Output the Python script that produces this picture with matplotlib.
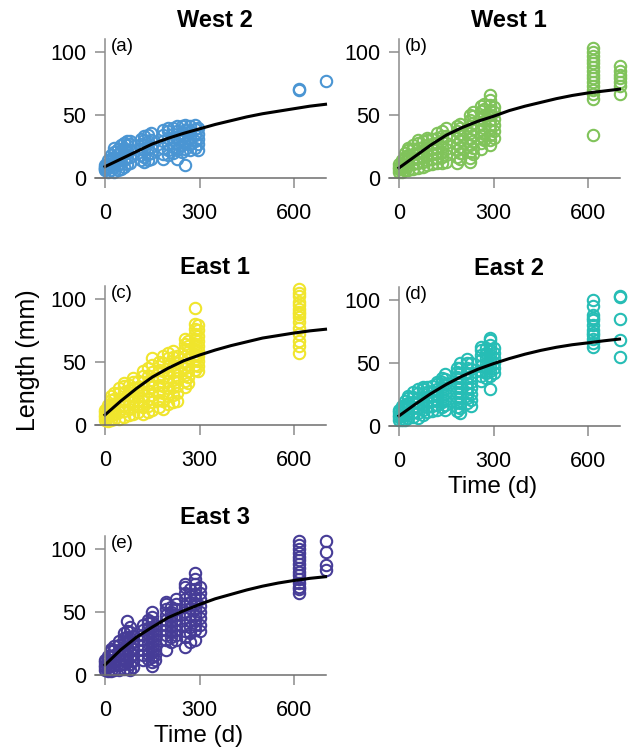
import matplotlib
matplotlib.use('Agg')
import matplotlib.pyplot as plt

plt.rcParams['font.family'] = ['Liberation Sans', 'DejaVu Sans']

# ---- data ----
titles = ['West 2', 'West 1', 'East 1', 'East 2', 'East 3']
tags = ['(a)', '(b)', '(c)', '(d)', '(e)']
colors = ['#4a95d3', '#80c35a', '#f0e52c', '#26bdb5', '#463c97']

# sampling days and measured lengths (mm) per day
west2_days = [0, 10, 20, 30, 40, 50, 60, 70, 80, 115, 125, 135, 145,
              185, 200, 215, 230, 245, 255, 270, 285, 295, 615, 700]
west2_len = [[6, 8, 9, 10, 7], [5, 8, 11, 14], [6, 10, 14, 18], [5, 9, 13, 17, 21, 24],
             [6, 10, 15, 19, 23], [7, 12, 17, 22, 26], [9, 14, 19, 24, 28],
             [11, 16, 21, 26, 29], [12, 17, 22, 27, 29], [14, 18, 23, 27, 31],
             [13, 17, 22, 26, 30, 33], [14, 19, 24, 29, 34], [15, 20, 25, 30, 36],
             [15, 19, 24, 29, 34, 38], [18, 22, 27, 32, 37, 40], [20, 25, 30, 35, 40],
             [15, 22, 27, 32, 37, 41], [21, 26, 31, 36, 41], [10, 23, 28, 33, 38, 42],
             [22, 27, 32, 37, 41], [24, 29, 34, 39, 42], [22, 27, 31, 35, 40],
             [70, 71], [77]]

west1_days = [0, 10, 20, 30, 45, 60, 75, 90, 105, 120, 135, 150,
              185, 195, 225, 235, 260, 270, 290, 300, 615, 700]
west1_len = [[5, 7, 9, 11], [5, 8, 11, 14], [6, 9, 13, 17, 20], [6, 10, 14, 18, 22, 24],
             [7, 11, 15, 19, 23, 26], [8, 12, 16, 20, 24, 28, 30], [9, 13, 17, 21, 25, 29],
             [10, 14, 18, 22, 26, 30, 32], [11, 15, 19, 23, 27, 31],
             [12, 16, 20, 24, 28, 32, 36], [12, 17, 21, 25, 29, 33, 37],
             [13, 18, 23, 28, 33, 40], [12, 17, 22, 27, 32, 37, 41],
             [15, 20, 25, 30, 35, 40, 43], [13, 16, 21, 26, 31, 36, 41, 46, 50],
             [19, 24, 29, 34, 39, 44, 49, 52], [23, 28, 33, 38, 43, 48, 53, 57],
             [30, 35, 40, 45, 50, 55, 59], [26, 30, 34, 38, 42, 46, 50, 54, 58, 62, 66],
             [32, 37, 42, 47, 52, 56],
             [34, 63, 67, 70, 73, 76, 79, 82, 85, 88, 91, 94, 97, 100, 103],
             [67, 73, 76, 79, 82, 85, 89]]

east1_days = [0, 10, 20, 30, 45, 60, 75, 90, 105, 120, 135, 150, 170,
              185, 200, 215, 230, 255, 265, 285, 295, 615]
east1_len = [[4, 6, 8, 10, 12], [3, 6, 9, 13, 16], [4, 8, 12, 16, 20, 23],
             [5, 9, 13, 17, 21, 25], [5, 10, 15, 20, 25, 29], [6, 11, 16, 21, 26, 31, 33],
             [8, 13, 18, 23, 28, 32], [9, 14, 19, 24, 29, 34, 37], [10, 15, 20, 25, 30, 35],
             [9, 14, 19, 24, 29, 34, 39, 43], [10, 15, 21, 27, 33, 39, 45],
             [12, 18, 24, 30, 36, 42, 48, 53], [14, 20, 26, 32, 38, 44, 50],
             [13, 19, 25, 31, 37, 43, 49, 55], [17, 23, 29, 35, 41, 47, 53, 57],
             [18, 24, 30, 36, 42, 48, 54, 59], [19, 25, 31, 37, 43, 49, 55],
             [30, 35, 40, 45, 50, 55, 60, 64, 68], [33, 38, 43, 48, 53, 58, 63, 67],
             [44, 48, 52, 56, 60, 64, 68, 72, 76, 80, 93],
             [43, 47, 51, 55, 59, 63, 67, 71, 75, 79],
             [57, 63, 67, 72, 77, 82, 86, 88, 90, 92, 95, 98, 102, 105, 108]]

east2_days = [0, 10, 20, 30, 45, 60, 75, 90, 105, 120, 135, 145,
              185, 195, 215, 230, 260, 275, 290, 300, 615, 700]
east2_len = [[5, 7, 9, 11, 13], [5, 8, 11, 14, 16], [5, 9, 13, 17, 20],
             [6, 10, 14, 18, 22, 24], [7, 11, 15, 19, 23, 27], [6, 10, 14, 18, 22, 26, 29],
             [9, 13, 17, 21, 25, 29, 31], [11, 15, 19, 23, 27, 31], [12, 16, 20, 24, 28, 32],
             [13, 17, 21, 25, 29, 33, 35], [15, 19, 23, 27, 31, 35, 38],
             [13, 17, 21, 25, 29, 33, 37, 41], [12, 15, 19, 23, 27, 31, 35, 39, 43, 46],
             [10, 14, 18, 22, 26, 30, 34, 38, 42, 46, 50],
             [18, 22, 26, 30, 34, 38, 42, 46, 50, 53], [16, 21, 25, 30, 35, 40, 45, 50],
             [36, 40, 44, 48, 52, 56, 60, 63], [38, 42, 46, 50, 54, 58, 62],
             [29, 40, 44, 48, 52, 56, 60, 64, 68, 70], [42, 46, 50, 54, 58, 62],
             [63, 66, 69, 72, 74, 76, 80, 84, 86, 88, 95, 100], [55, 68, 85, 102, 103]]

east3_days = [0, 10, 20, 30, 45, 60, 70, 80, 90, 120, 135, 150, 160,
              195, 210, 225, 255, 270, 285, 300, 615, 700]
east3_len = [[4, 6, 8, 10, 12], [3, 6, 9, 12, 15], [3, 7, 11, 15, 19, 21],
             [4, 8, 12, 16, 20, 23], [4, 8, 12, 16, 20, 24, 27], [5, 9, 13, 17, 21, 25, 29, 33],
             [5, 10, 15, 20, 25, 30, 35, 43], [4, 9, 14, 19, 24, 29, 34, 38],
             [6, 11, 16, 21, 26, 31], [12, 16, 20, 24, 28, 32, 36, 40],
             [13, 17, 21, 25, 29, 33, 37, 41, 44],
             [7, 10, 14, 18, 22, 26, 30, 34, 38, 42, 46, 50], [12, 16, 20, 24, 28, 32, 36, 40],
             [20, 28, 32, 36, 40, 44, 48, 52, 56, 58], [26, 30, 34, 38, 42, 46, 50, 54],
             [28, 32, 36, 40, 44, 48, 52, 56, 60],
             [22, 30, 35, 40, 45, 50, 55, 60, 65, 70, 72],
             [26, 33, 38, 43, 48, 53, 58, 63, 68],
             [28, 36, 40, 44, 48, 52, 56, 60, 64, 68, 72, 76, 81],
             [35, 40, 45, 50, 55, 60, 65, 70],
             [65, 68, 70, 73, 76, 79, 82, 85, 88, 91, 94, 97, 100, 103, 106],
             [83, 87, 98, 106]]

# fitted growth curves, read at these days
fit_days = [0, 50, 100, 150, 200, 250, 300, 350, 400, 450, 500, 550, 600, 650, 700]
west2_fit = [9, 15, 21, 27, 31.5, 35.5, 39, 42.5, 45.5, 48.5, 51, 53, 55, 57, 58.5]
west1_fit = [8, 17, 26, 34, 40, 45, 49, 53.5, 57, 60, 63, 65.5, 67.5, 69, 70.5]
east1_fit = [8, 19, 29, 38, 45, 51, 55.5, 59.5, 63, 66, 69, 71, 73, 74.7, 76]
east2_fit = [8, 17, 25.5, 33, 39.5, 45, 49.5, 53.5, 57, 60, 62.5, 64.5, 66, 67.6, 69]
east3_fit = [8, 20, 30, 38, 45.5, 51, 56, 60.5, 64, 67.5, 70.5, 73, 75, 76.7, 78]

all_days = [west2_days, west1_days, east1_days, east2_days, east3_days]
all_len = [west2_len, west1_len, east1_len, east2_len, east3_len]
all_fit = [west2_fit, west1_fit, east1_fit, east2_fit, east3_fit]

# panel placement in pixels: (x of day 0, y of length 0)
W, H = 634, 750
origins = [(105, 178), (399, 178), (105, 425), (399, 426), (105, 675)]
xpx_per_day = 0.315
ypx_per_mm = 1.26
xmin, xmax = -32, 700
ymin, ymax = -10, 110

fig = plt.figure(figsize=(W / 100, H / 100), dpi=100)

for i in range(5):
    x0, y0 = origins[i]
    left = x0 + xmin * xpx_per_day
    width = (xmax - xmin) * xpx_per_day
    top = y0 - ymax * ypx_per_mm
    height = (ymax - ymin) * ypx_per_mm
    ax = fig.add_axes([left / W, 1 - (top + height) / H, width / W, height / H])

    xs, ys = [], []
    for d, vals in zip(all_days[i], all_len[i]):
        xs += [d] * len(vals)
        ys += vals
    ax.plot(xs, ys, 'o', ms=8.2, mfc='none', mec=colors[i], mew=1.5, clip_on=False)
    ax.plot(fit_days, all_fit[i], '-', color='black', lw=2.2, clip_on=False)

    ax.set_xlim(xmin, xmax)
    ax.set_ylim(ymin, ymax)
    ax.patch.set_alpha(0)
    for s in ['top', 'right']:
        ax.spines[s].set_visible(False)
    ax.spines['left'].set_position(('data', 0))
    ax.spines['bottom'].set_position(('data', 0))
    ax.spines['left'].set_bounds(0, ymax)
    ax.spines['bottom'].set_bounds(xmin, xmax)
    ax.spines['left'].set_color('#8c8c8c')
    ax.spines['bottom'].set_color('#6e6e6e')
    ax.spines['left'].set_linewidth(1.1)
    ax.spines['bottom'].set_linewidth(1.1)
    ax.set_xticks([0, 300, 600])
    ax.set_yticks([0, 50, 100])
    ax.tick_params(axis='x', direction='out', length=7.2, width=1.1, color='#8c8c8c',
                   labelsize=15.5, pad=11)
    ax.tick_params(axis='y', direction='out', length=7.2, width=1.1, color='#8c8c8c',
                   labelsize=15.5, pad=6)

    ax.annotate(titles[i], xy=(350, ymax), xytext=(0, 5), textcoords='offset points',
                ha='center', va='bottom', fontsize=17, fontweight='bold')
    ax.text(20, 111, tags[i], ha='left', va='top', fontsize=13.5)

fig.text(28 / W, 1 - 360 / H, 'Length (mm)', rotation=90, ha='center', va='center',
         fontsize=18)
fig.text(493 / W, 1 - 487 / H, 'Time (d)', ha='center', va='center', fontsize=17.5)
fig.text(199 / W, 1 - 736 / H, 'Time (d)', ha='center', va='center', fontsize=17.5)

fig.savefig('out.png', dpi=100)
